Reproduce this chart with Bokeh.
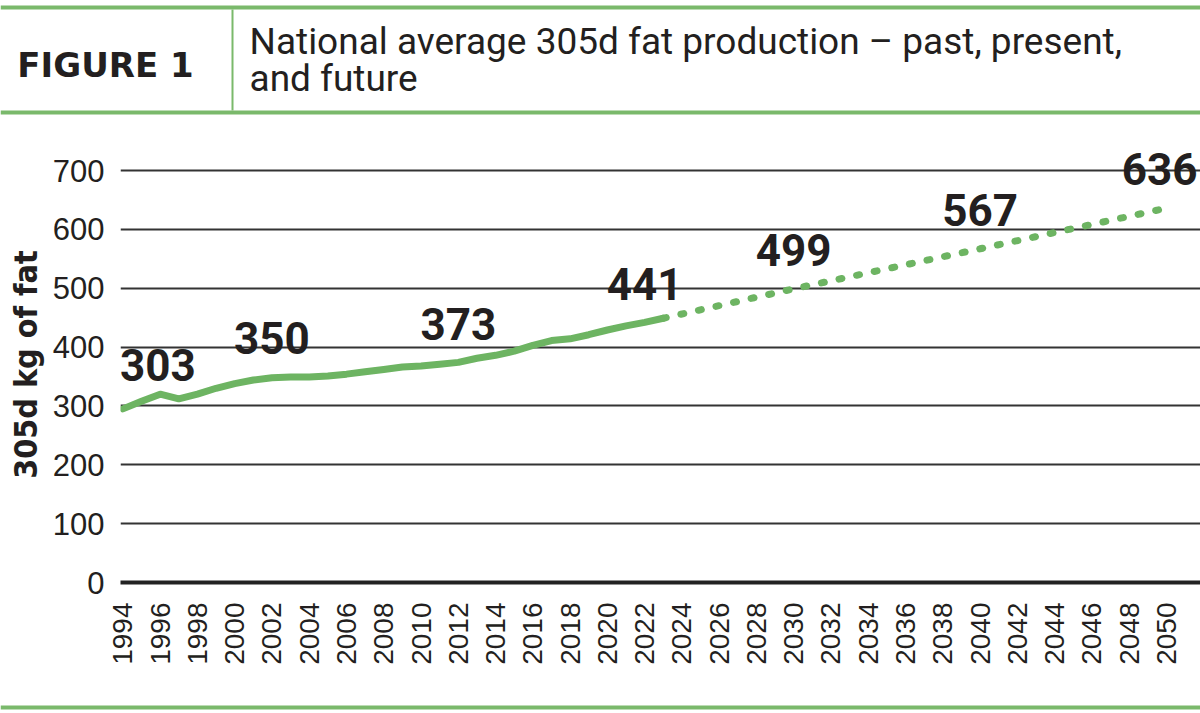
import numpy as np
from bokeh.plotting import figure
from bokeh.layouts import column
from bokeh.models import Range1d, FixedTicker
from bokeh.core.properties import value
from bokeh.embed import file_html
from bokeh.resources import INLINE

# ---------------- data ----------------
hist_years = list(range(1994, 2024))
hist_values = [295, 308, 320, 312, 320, 330, 338, 344, 348, 349,
               349, 351, 354, 358, 362, 366, 368, 371, 374, 381,
               386, 393, 403, 411, 414, 421, 429, 436, 442, 449]
proj_years = [2023, 2030, 2040, 2050]
proj_values = [449, 499, 567, 636]
label_years = [1994, 2002, 2012, 2022, 2030, 2040, 2050]
label_values = [303, 350, 373, 441, 499, 567, 636]
x_ticks = list(range(1994, 2051, 2))
y_ticks = [0, 100, 200, 300, 400, 500, 600, 700]
figure_tag = "FIGURE 1"
title_lines = ["National average 305d fat production \u2013 past, present,", "and future"]
y_label = "305d kg of fat"

# ---------------- styles ----------------
W = 1200
RULE_GREEN = "#7ab96b"
LINE_GREEN = "#6db462"
DARK = "#231f20"
NARROW = "DejaVu Sans Condensed"

# ---------------- header ----------------
header = figure(width=W, height=120, x_range=Range1d(0, W), y_range=Range1d(120, 0),
                output_backend="svg", toolbar_location=None,
                x_axis_type=None, y_axis_type=None, min_border=0,
                outline_line_color=None, frame_align=False)
header.grid.visible = False
header.segment(x0=[0, 0], y0=[7, 112], x1=[W, W], y1=[7, 112],
               line_color=RULE_GREEN, line_width=4)
header.segment(x0=[232], y0=[9], x1=[232], y1=[110],
               line_color=RULE_GREEN, line_width=2)
header.text(x=[105], y=[64], text=[figure_tag], text_font=value("DejaVu Sans"),
            text_font_style="bold", text_font_size="34px", text_align="center",
            text_baseline="alphabetic", text_color=DARK)
header.text(x=[249, 249], y=[41, 78], text=title_lines, text_font=value("Roboto"),
            text_font_size="37px", text_align="left",
            text_baseline="alphabetic", text_color=DARK)

# ---------------- chart ----------------
chart = figure(width=W, height=577,
               x_range=Range1d(1993.87, 2051.83), y_range=Range1d(0, 740.8),
               output_backend="svg", toolbar_location=None,
               min_border_left=120, min_border_right=0,
               min_border_top=26, min_border_bottom=115,
               outline_line_color=None, frame_align=False)

chart.xgrid.visible = False
chart.ygrid.grid_line_color = "#333333"
chart.ygrid.grid_line_width = 2

chart.xaxis.ticker = FixedTicker(ticks=x_ticks)
chart.xaxis.major_label_orientation = np.pi / 2
chart.xaxis.major_tick_in = 0
chart.xaxis.major_tick_out = 0
chart.xaxis.minor_tick_in = 0
chart.xaxis.minor_tick_out = 0
chart.xaxis.axis_line_width = 4
chart.xaxis.axis_line_color = "#222222"
chart.xaxis.major_label_standoff = 20
chart.xaxis.major_label_text_font = "Liberation Sans"
chart.xaxis.major_label_text_font_size = "28px"
chart.xaxis.major_label_text_color = DARK

chart.yaxis.ticker = FixedTicker(ticks=y_ticks)
chart.yaxis.axis_line_color = None
chart.yaxis.major_tick_in = 0
chart.yaxis.major_tick_out = 0
chart.yaxis.minor_tick_in = 0
chart.yaxis.minor_tick_out = 0
chart.yaxis.major_label_standoff = 16
chart.yaxis.major_label_text_font = "Liberation Sans"
chart.yaxis.major_label_text_font_size = "31px"
chart.yaxis.major_label_text_color = DARK
chart.yaxis.axis_label = y_label
chart.yaxis.axis_label_text_font = NARROW
chart.yaxis.axis_label_text_font_style = "bold"
chart.yaxis.axis_label_text_font_size = "32px"
chart.yaxis.axis_label_text_color = DARK
chart.yaxis.axis_label_standoff = 5

chart.line(hist_years, hist_values, line_color=LINE_GREEN, line_width=7,
           line_cap="round", line_join="round")
chart.line(proj_years, proj_values, line_color=LINE_GREEN, line_width=7,
           line_cap="round", line_join="round", line_dash="3 15")

label_texts = [str(v) for v in label_values]
label_style = dict(text_baseline="alphabetic", y_offset=-39,
                   text_font=value("Roboto"), text_font_style="bold",
                   text_font_size="44px", text_color=DARK)
chart.text(x=label_years[:1], y=label_values[:1], text=label_texts[:1],
           text_align="left", x_offset=-3, **label_style)
chart.text(x=label_years[1:-1], y=label_values[1:-1], text=label_texts[1:-1],
           text_align="center", **label_style)
chart.text(x=label_years[-1:], y=label_values[-1:], text=label_texts[-1:],
           text_align="right", x_offset=31, **label_style)

# ---------------- footer ----------------
footer = figure(width=W, height=16, x_range=Range1d(0, W), y_range=Range1d(16, 0),
                output_backend="svg", toolbar_location=None,
                x_axis_type=None, y_axis_type=None, min_border=0,
                outline_line_color=None, frame_align=False)
footer.grid.visible = False
footer.segment(x0=[0], y0=[10], x1=[W], y1=[10], line_color=RULE_GREEN, line_width=4)

layout = column(header, chart, footer, spacing=0)
open("out.html", "w").write(file_html(layout, INLINE))
